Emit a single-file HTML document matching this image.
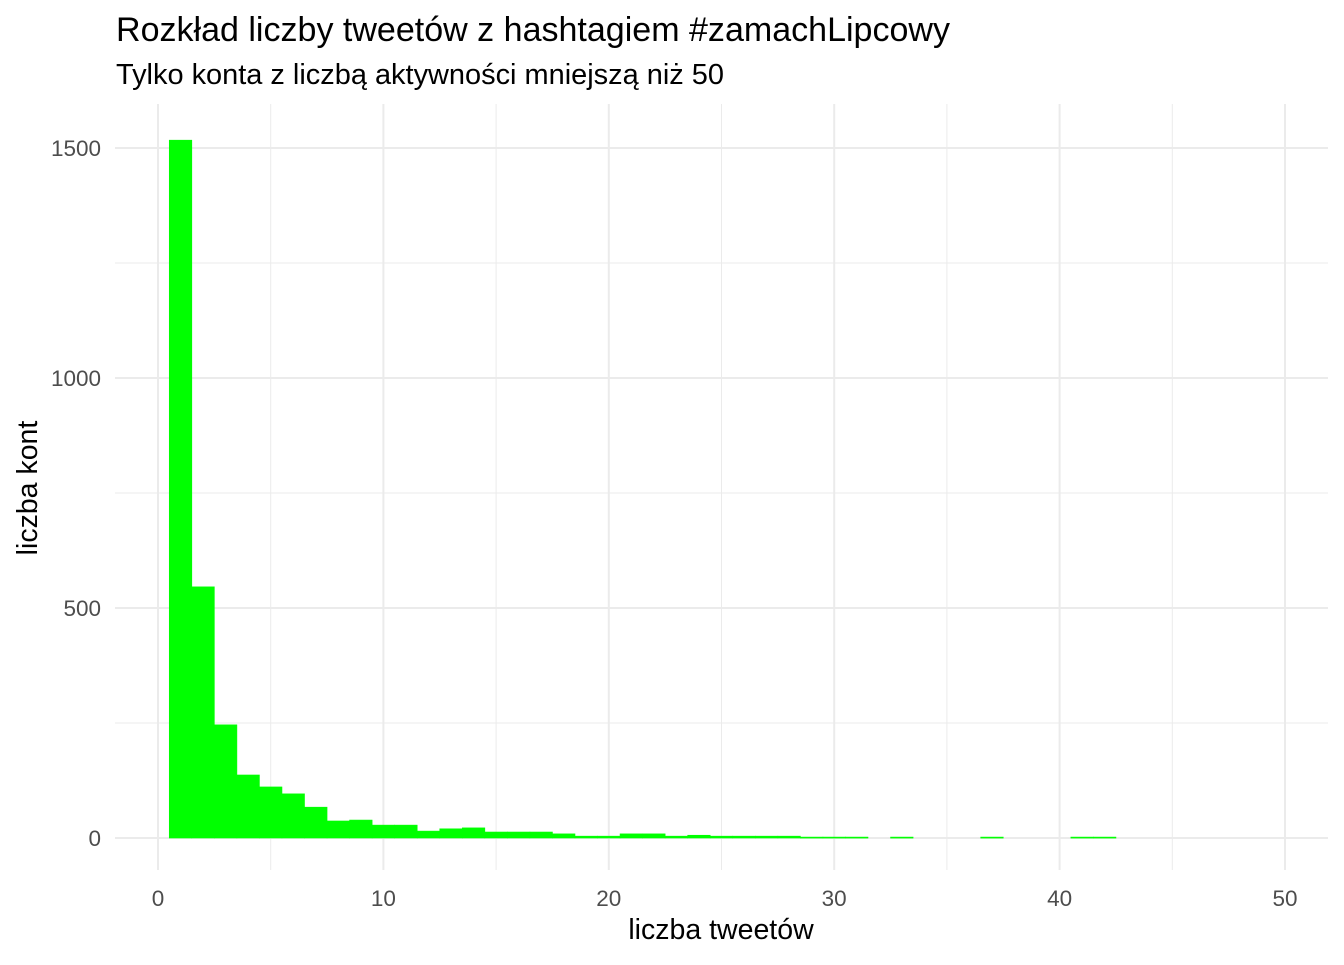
<!DOCTYPE html>
<html><head><meta charset="utf-8"><style>
body{margin:0;background:#fff;}
svg text{font-family:"Liberation Sans",Arial,sans-serif;}
</style></head><body>
<svg id="chart" width="1344" height="960" xmlns="http://www.w3.org/2000/svg">
<text x="116" y="41" font-size="34" fill="#000" textLength="834" lengthAdjust="spacingAndGlyphs">Rozkład liczby tweetów z hashtagiem #zamachLipcowy</text>
<text x="116" y="84" font-size="28.5" fill="#000" textLength="608" lengthAdjust="spacingAndGlyphs">Tylko konta z liczbą aktywności mniejszą niż 50</text>
<g id="grid"></g>
<g id="bars"></g>
<g id="axes"></g>
<text x="721" y="939" font-size="28.5" text-anchor="middle" fill="#000">liczba tweetów</text>
<text transform="translate(37,488) rotate(-90)" font-size="28.5" text-anchor="middle" fill="#000">liczba kont</text>
</svg>
<script>
const binCenters=[1,2,3,4,5,6,7,8,9,10,11,12,13,14,15,16,17,18,19,20,21,22,23,24,25,26,27,28,29,30,31,33,37,41,42];
const counts=[1517,546,246,137,111,96,67,37,39,28,28,15,20,22,13,13,13,9,4,4,9,9,4,6,4,4,4,4,2,2,2,2,2,2,2];
const xTicks=[0,10,20,30,40,50];
const yTicks=[0,500,1000,1500];
const xMinor=[5,15,25,35,45];
const yMinor=[250,750,1250];
const binWidth=1;
const xs=v=>158+v*(1285-158)/50;
const ys=v=>838-v*(838-148)/1500;
const NS="http://www.w3.org/2000/svg";
function mk(tag,attrs,parent){const e=document.createElementNS(NS,tag);for(const k in attrs)e.setAttribute(k,attrs[k]);document.getElementById(parent).appendChild(e);return e;}
const L=115,R=1328,T=104,B=870;
xMinor.forEach(v=>{const e=mk('line',{x1:xs(v),x2:xs(v),y1:T,y2:B,stroke:'#ebebeb','stroke-width':1},'grid');

});
yMinor.forEach(v=>{const e=mk('line',{x1:L,x2:R,y1:ys(v),y2:ys(v),stroke:'#ebebeb','stroke-width':1},'grid');

});
xTicks.forEach(v=>{const e=mk('line',{x1:xs(v),x2:xs(v),y1:T,y2:B,stroke:'#ebebeb','stroke-width':2},'grid');


const t=mk('text',{x:xs(v),y:906,'font-size':22.5,'text-anchor':'middle',fill:'#4d4d4d'},'axes');t.textContent=v;

});
yTicks.forEach(v=>{const e=mk('line',{x1:L,x2:R,y1:ys(v),y2:ys(v),stroke:'#ebebeb','stroke-width':2},'grid');


const t=mk('text',{x:101,y:ys(v)+8,'font-size':22.5,'text-anchor':'end',fill:'#4d4d4d'},'axes');t.textContent=v;

});
binCenters.forEach((c,i)=>{const x0=xs(c-binWidth/2),x1=xs(c+binWidth/2);const y=ys(counts[i]);
const r=mk('rect',{x:x0,y:y,width:x1-x0,height:Math.max(ys(0)-y,1),fill:'#00ff00',stroke:'#00ff00','stroke-width':0.6},'bars');

});
</script>
</body></html>
